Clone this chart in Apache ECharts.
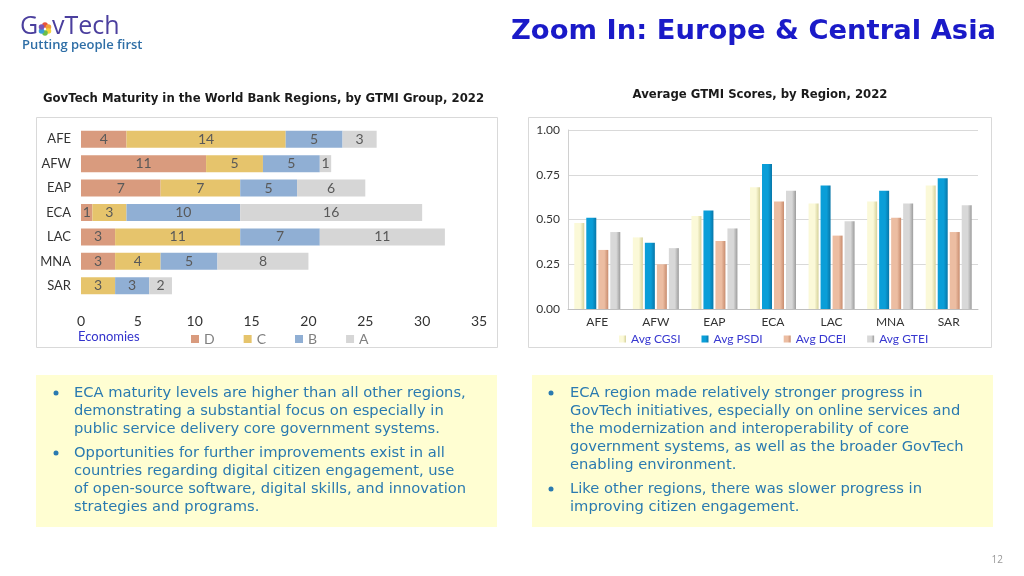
<!DOCTYPE html>
<html>
<head>
<meta charset="utf-8">
<script src="https://cdn.jsdelivr.net/npm/echarts@6/dist/echarts.min.js"></script>
<style>
html,body{margin:0;padding:0;background:#fff;}
#c{width:1024px;height:576px;}
</style>
</head>
<body>
<div id="c"></div>
<script>
// ---- data ----
const regions = ['AFE','AFW','EAP','ECA','LAC','MNA','SAR'];
const groupNames = ['D','C','B','A'];
const groupD = [4,11,7,1,3,3,0];
const groupC = [14,5,7,3,11,4,3];
const groupB = [5,5,5,10,7,5,3];
const groupA = [3,1,6,16,11,8,2];
const scoreNames = ['Avg CGSI','Avg PSDI','Avg DCEI','Avg GTEI'];
const avgCGSI = [0.48,0.40,0.52,0.68,0.59,0.60,0.69];
const avgPSDI = [0.51,0.37,0.55,0.81,0.69,0.66,0.73];
const avgDCEI = [0.33,0.25,0.38,0.60,0.41,0.51,0.43];
const avgGTEI = [0.43,0.34,0.45,0.66,0.49,0.59,0.58];
const leftTicks = [0,5,10,15,20,25,30,35];
const rightTicks = [0,0.25,0.5,0.75,1];

const leftLines = [
  ['ECA maturity levels are higher than all other regions,',
   'demonstrating a substantial focus on especially in',
   'public service delivery core government systems.'],
  ['Opportunities for further improvements exist in all',
   'countries regarding digital citizen engagement, use',
   'of open-source software, digital skills, and innovation',
   'strategies and programs.']
];
const rightLines = [
  ['ECA region made relatively stronger progress in',
   'GovTech initiatives, especially on online services and',
   'the modernization and interoperability of core',
   'government systems, as well as the broader GovTech',
   'enabling environment.'],
  ['Like other regions, there was slower progress in',
   'improving citizen engagement.']
];

const chart = echarts.init(document.getElementById('c'));
const BODY = '"DejaVu Sans", sans-serif';
const OPEN = '"Open Sans", sans-serif';
const CHARTF = 'Lato, "Open Sans", sans-serif';

function txt(x, y, text, o) {
  o = o || {};
  return {
    type: 'text', z: 100,
    style: {
      x: x, y: y, text: text,
      fontSize: o.size || 14, fontFamily: o.family || BODY,
      fontWeight: o.weight || 'normal',
      fill: o.color || '#000',
      textAlign: o.align || 'left', textVerticalAlign: 'middle',
      align: o.align || 'left', verticalAlign: 'middle'
    }
  };
}

const graphics = [];
// boxes
graphics.push({type:'rect', z:0, shape:{x:36.5,y:117.5,width:461,height:230}, style:{fill:'#fff',stroke:'#d9d9d9',lineWidth:1}});
graphics.push({type:'rect', z:0, shape:{x:528.5,y:117.5,width:463,height:230}, style:{fill:'#fff',stroke:'#d9d9d9',lineWidth:1}});
graphics.push({type:'rect', z:0, shape:{x:36,y:375,width:461,height:152}, style:{fill:'#fffed2'}});
graphics.push({type:'rect', z:0, shape:{x:532,y:375,width:461,height:152}, style:{fill:'#fffed2'}});

// logo
graphics.push(txt(20, 27, 'G', {size:25, color:'#4b3f9e', family:OPEN}));
const petals = ['#e8543c','#f2a03a','#f5d23c','#6cbf4a','#3aa0d8','#7a56b8'];
petals.forEach(function(c, i){
  const a = i * Math.PI / 3 - Math.PI/2;
  graphics.push({type:'circle', z:100, shape:{cx:45 + 4*Math.cos(a), cy:29 + 4*Math.sin(a), r:2.8}, style:{fill:c}});
});
graphics.push(txt(52, 27, 'vTech', {size:25, color:'#4b3f9e', family:OPEN}));
graphics.push(txt(22, 45, 'Putting people first', {size:13, color:'#2e6ea6', weight:'600', family:OPEN}));

// title
graphics.push(txt(996, 32, 'Zoom In: Europe & Central Asia', {size:27.4, color:'#1a1ac8', weight:'bold', align:'right'}));
// subtitles
graphics.push(txt(43, 99, 'GovTech Maturity in the World Bank Regions, by GTMI Group, 2022', {size:11.7, color:'#1a1a1a', weight:'bold'}));
graphics.push(txt(760, 95, 'Average GTMI Scores, by Region, 2022', {size:11.7, color:'#1a1a1a', weight:'bold', align:'center'}));
// Economies label
graphics.push(txt(78, 337, 'Economies', {size:13, color:'#3333cc', family:CHARTF}));
// page number
graphics.push(txt(1003, 560, '12', {size:10, color:'#999', align:'right', family:OPEN}));

function bulletBlock(bx, tx, ys, paras) {
  let k = 0;
  paras.forEach(function(p){
    graphics.push({type:'circle', z:100, shape:{cx:bx, cy:ys[k], r:2.5}, style:{fill:'#2a7ab0'}});
    p.forEach(function(line){
      graphics.push(txt(tx, ys[k], line, {size:14.7, color:'#2a7ab0'}));
      k++;
    });
  });
}
bulletBlock(56, 74, [393,411,429,453,471,489,507], leftLines);
bulletBlock(551, 570, [393,411,429,447,465,489,507], rightLines);

function grad(c0, c1) {
  return new echarts.graphic.LinearGradient(0,0,1,0,[{offset:0,color:c0},{offset:0.6,color:c0},{offset:1,color:c1}]);
}

const stackColors = ['#d99b7e','#e6c46c','#90afd4','#d6d6d6'];
const stackData = [groupD, groupC, groupB, groupA];
const scoreData = [avgCGSI, avgPSDI, avgDCEI, avgGTEI];
const scoreColors = [grad('#fbf9d8','#d6d29a'), grad('#0a9ed8','#0876a8'), grad('#ecbda2','#c88c6e'), grad('#d8d8d8','#9c9c9c')];

const series = [];
stackData.forEach(function(d, i){
  series.push({
    name: groupNames[i], type:'bar', stack:'g', xAxisIndex:0, yAxisIndex:0,
    data: d, barWidth: 17,
    itemStyle:{color: stackColors[i]},
    label:{show:true, position:'inside', color:'#595959', fontSize:14, fontFamily:CHARTF,
      formatter:function(p){return p.value ? String(p.value) : '';}}
  });
});
scoreData.forEach(function(d, i){
  series.push({
    name: scoreNames[i], type:'bar', xAxisIndex:1, yAxisIndex:1,
    data: d, barWidth: 10, barGap:'20%',
    itemStyle:{color: scoreColors[i]}
  });
});

chart.setOption({
  animation:false,
  textStyle:{fontFamily:CHARTF},
  graphic: graphics,
  grid:[
    {left:81, top:127, width:398, height:171, show:true, borderColor:'#d3d8e0', borderWidth:1},
    {left:568, top:130, width:410, height:179}
  ],
  legend:[
    {data:groupNames, left:186, top:327, itemWidth:8, itemHeight:8, itemGap:29,
     icon:'rect', textStyle:{color:'#808080', fontSize:14, fontFamily:CHARTF}},
    {data:scoreNames, left:614, top:328, itemWidth:7, itemHeight:7, itemGap:21,
     icon:'rect', textStyle:{color:'#3838d0', fontSize:12, fontFamily:CHARTF}}
  ],
  xAxis:[
    {type:'value', gridIndex:0, min:leftTicks[0], max:leftTicks[leftTicks.length-1], interval:5,
     axisLine:{show:false}, axisTick:{show:false}, splitLine:{show:false},
     axisLabel:{color:'#333', fontSize:14, margin:16, fontFamily:CHARTF}},
    {type:'category', gridIndex:1, data:regions,
     axisLine:{lineStyle:{color:'#bfbfbf'}}, axisTick:{show:false},
     axisLabel:{color:'#333', fontSize:12, margin:7, fontFamily:CHARTF}}
  ],
  yAxis:[
    {type:'category', gridIndex:0, data:regions, inverse:true,
     axisLine:{show:false}, axisTick:{show:false},
     axisLabel:{color:'#333', fontSize:13, margin:10, fontFamily:CHARTF}},
    {type:'value', gridIndex:1, min:rightTicks[0], max:rightTicks[rightTicks.length-1], interval:0.25,
     axisLine:{show:true, lineStyle:{color:'#d0d0d0'}}, axisTick:{show:false},
     splitLine:{lineStyle:{color:'#d9d9d9'}},
     axisLabel:{color:'#333', fontSize:12, margin:8, fontFamily:CHARTF,
       formatter:function(v){return v.toFixed(2);}}}
  ],
  series: series
});
</script>
</body>
</html>
